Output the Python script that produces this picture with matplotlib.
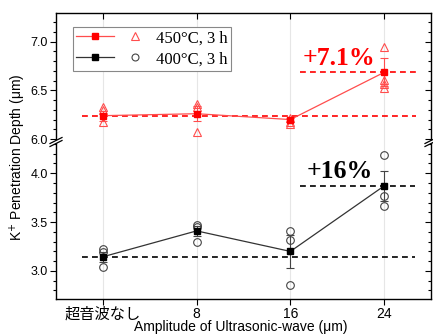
import matplotlib
matplotlib.use("Agg")
import matplotlib.pyplot as plt
from matplotlib.lines import Line2D
from matplotlib.patches import Polygon
from matplotlib.legend_handler import HandlerTuple
from matplotlib.ticker import MultipleLocator
import numpy as np

plt.rcParams['font.family'] = ['Liberation Sans', 'Noto Sans CJK JP', 'DejaVu Sans']

categories = ["超音波なし", "8", "16", "24"]
x = np.arange(len(categories))

# 450 °C, 3 h (red)
red_mean = [6.24, 6.26, 6.20, 6.685]
red_err = [0.05, 0.075, 0.02, 0.145]
red_pts = [[6.33, 6.30, 6.17], [6.36, 6.33, 6.075], [6.22, 6.17, 6.15], [6.95, 6.61, 6.57, 6.52]]
red_base = 6.235
red_top = 6.685

# 400 °C, 3 h (black)
blk_mean = [3.145, 3.41, 3.20, 3.87]
blk_err = [0.05, 0.05, 0.17, 0.15]
blk_pts = [[3.22, 3.19, 3.045], [3.47, 3.45, 3.30], [3.41, 3.32, 2.86], [4.19, 3.77, 3.66]]
blk_base = 3.145
blk_top = 3.87

W, H = 433, 334
fig = plt.figure(figsize=(W / 100, H / 100), dpi=100)

L, R = 56 / W, 431 / W
ytop, ybrk, ybot = 1 - 13 / H, 1 - 140 / H, 1 - 299 / H
ax_u = fig.add_axes([L, ybrk, R - L, ytop - ybrk])
ax_l = fig.add_axes([L, ybot, R - L, ybrk - ybot])

RED = '#ff0000'
RED_LINE = '#ff4d4d'
BLK = '#000000'
BLK_LINE = '#333333'

ylims = {ax_u: (5.99, 7.295), ax_l: (2.713, 4.34)}

for ax in (ax_u, ax_l):
    ax.set_xlim(-0.5, 3.5)
    ax.set_ylim(*ylims[ax])
    for xi in x:
        ax.axvline(xi, color='#e6e6e6', lw=0.8, zorder=0)
    ax.yaxis.set_minor_locator(MultipleLocator(0.1))
    ax.yaxis.set_major_locator(MultipleLocator(0.5))
    ax.tick_params(axis='y', which='major', direction='out', length=4, width=0.8, labelsize=9, pad=2)
    ax.tick_params(axis='y', which='minor', direction='out', length=2.5, width=0.8)
    for sp in ax.spines.values():
        sp.set_linewidth(1.0)
    # inward ticks on the right side
    axr = ax.twinx()
    axr.set_ylim(*ylims[ax])
    axr.yaxis.set_minor_locator(MultipleLocator(0.1))
    axr.yaxis.set_major_locator(MultipleLocator(0.5))
    axr.tick_params(axis='y', which='major', direction='in', length=4, width=0.8, labelright=False)
    axr.tick_params(axis='y', which='minor', direction='in', length=2.5, width=0.8)
    for sp in axr.spines.values():
        sp.set_visible(False)

ax_u.set_yticks([6.0, 6.5, 7.0])
ax_u.set_yticklabels(['6.0', '6.5', '7.0'])
ax_l.set_yticks([3.0, 3.5, 4.0])
ax_l.set_yticklabels(['3.0', '3.5', '4.0'])

ax_u.spines['bottom'].set_visible(False)
ax_l.spines['top'].set_visible(False)

ax_u.set_xticks(x)
ax_u.tick_params(axis='x', which='both', bottom=False, labelbottom=False, top=True,
                 direction='in', length=4, width=0.8)
ax_l.set_xticks(x)
ax_l.set_xticklabels(categories)
ax_l.tick_params(axis='x', which='both', top=False, bottom=True, direction='out',
                 length=4, width=0.8, labelsize=10, pad=2)
ax_l.get_xticklabels()[0].set_fontsize(11)

# red series
ax_u.plot(x, red_mean, color=RED_LINE, lw=0.9, zorder=3)
ax_u.errorbar(x, red_mean, yerr=red_err, fmt='none', ecolor=RED_LINE, elinewidth=0.8,
              capsize=3, capthick=0.8, zorder=3)
for xi, pts in zip(x, red_pts):
    ax_u.plot([xi] * len(pts), pts, linestyle='none', marker='^', ms=6, mfc='none',
              mec=RED_LINE, mew=0.8, zorder=4)
ax_u.plot(x, red_mean, linestyle='none', marker='s', ms=5, color=RED, zorder=5)
ax_u.plot([-0.22, 3.34], [red_base, red_base], color=RED, lw=1.2, dashes=(3.5, 2.5), zorder=2)
ax_u.plot([2.1, 3.34], [red_top, red_top], color=RED, lw=1.2, dashes=(3.5, 2.5), zorder=2)
ax_u.text(2.52, 6.76, '+7.1%', color=RED, fontsize=18.5, fontweight='bold',
          family='Liberation Serif', ha='center', va='baseline')

# black series
ax_l.plot(x, blk_mean, color=BLK_LINE, lw=0.9, zorder=3)
ax_l.errorbar(x, blk_mean, yerr=blk_err, fmt='none', ecolor='#444444', elinewidth=0.8,
              capsize=3, capthick=0.8, zorder=3)
for xi, pts in zip(x, blk_pts):
    ax_l.plot([xi] * len(pts), pts, linestyle='none', marker='o', ms=5.5, mfc='none',
              mec='#444444', mew=0.8, zorder=4)
ax_l.plot(x, blk_mean, linestyle='none', marker='s', ms=5, color=BLK, zorder=5)
ax_l.plot([-0.22, 3.33], [blk_base, blk_base], color=BLK, lw=1.2, dashes=(3.5, 2.5), zorder=2)
ax_l.plot([2.1, 3.33], [blk_top, blk_top], color=BLK, lw=1.2, dashes=(3.5, 2.5), zorder=2)
ax_l.text(2.53, 3.95, '+16%', color=BLK, fontsize=18.5, fontweight='bold',
          family='Liberation Serif', ha='center', va='baseline')

# legend
h_red_line = Line2D([], [], color=RED_LINE, lw=0.9, marker='s', ms=5, mfc=RED, mec=RED)
h_red_tri = Line2D([], [], linestyle='none', marker='^', ms=6, mfc='none', mec=RED_LINE, mew=0.8)
h_blk_line = Line2D([], [], color=BLK_LINE, lw=0.9, marker='s', ms=5, mfc=BLK, mec=BLK)
h_blk_circ = Line2D([], [], linestyle='none', marker='o', ms=5, mfc='none', mec='#444444', mew=0.8)
leg = ax_u.legend([(h_red_line, h_red_tri), (h_blk_line, h_blk_circ)],
                  ['450°C, 3 h', '400°C, 3 h'],
                  handler_map={tuple: HandlerTuple(ndivide=None, pad=0.12)},
                  loc='upper left', bbox_to_anchor=(0.045, 0.89), borderaxespad=0,
                  prop={'family': 'Liberation Serif', 'size': 12},
                  handlelength=4.67, handletextpad=0.1, borderpad=0.2, labelspacing=0.3,
                  fancybox=False, edgecolor='#888888', framealpha=1)
leg.get_frame().set_linewidth(0.8)
leg.set_zorder(20)

# break marks
def fx(px):
    return px / W

def fy(py):
    return 1 - py / H

for sx in (56, 431):
    poly = Polygon([(fx(sx - 6), fy(143.5)), (fx(sx + 6), fy(137.5)),
                    (fx(sx + 6), fy(140.5)), (fx(sx - 6), fy(146.5))],
                   closed=True, transform=fig.transFigure, facecolor='white',
                   edgecolor='none', zorder=10)
    fig.add_artist(poly)
    for off in (0, 3):
        fig.add_artist(Line2D([fx(sx - 6), fx(sx + 6)], [fy(143.5 + off), fy(137.5 + off)],
                              transform=fig.transFigure, color='black', lw=0.9, zorder=11))

fig.text(fx(18), fy(157), 'K$^{+}$ Penetration Depth (μm)', rotation=90,
         ha='center', va='center', fontsize=10)
fig.text(fx(241), fy(327), 'Amplitude of Ultrasonic-wave (μm)', ha='center', va='center',
         fontsize=10)

fig.savefig('out.png', dpi=100)
